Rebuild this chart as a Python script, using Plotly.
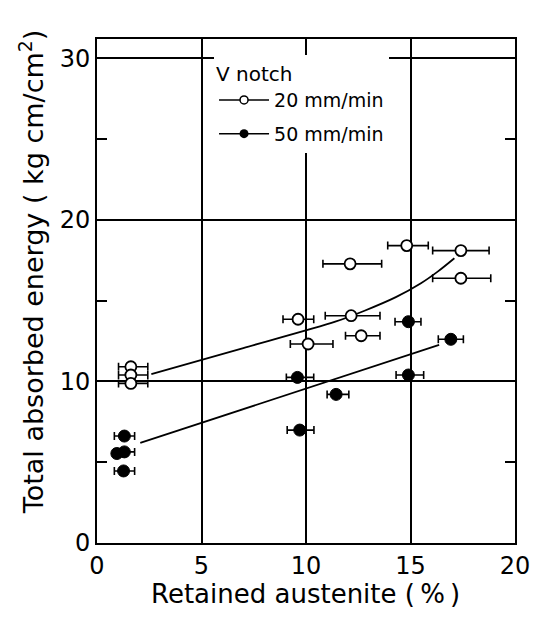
import plotly.graph_objects as go

# ---- data ----
# 20 mm/min (open circles)
open_x = [14.82, 17.41, 12.11, 17.41, 12.16, 9.62, 12.64, 10.10, 1.62, 1.62, 1.62]
open_y = [18.41, 18.10, 17.28, 16.39, 14.07, 13.85, 12.83, 12.32, 10.91, 10.40, 9.88]
open_err_plus = [1.03, 1.35, 1.51, 1.43, 1.38, 0.75, 0.90, 1.19, 0.81, 0.81, 0.81]
open_err_minus = [0.91, 1.35, 1.30, 1.35, 1.24, 0.72, 0.75, 0.85, 0.59, 0.59, 0.59]

# 50 mm/min (filled circles)
fill_x = [14.90, 16.93, 9.59, 14.90, 11.44, 9.70, 1.31, 1.31, 0.95, 1.27]
fill_y = [13.70, 12.61, 10.25, 10.40, 9.20, 6.99, 6.62, 5.64, 5.54, 4.46]
fill_err_plus = [0.60, 0.60, 0.78, 0.73, 0.61, 0.68, 0.49, 0.49, 0.0, 0.53]
fill_err_minus = [0.64, 0.60, 0.53, 0.59, 0.43, 0.60, 0.48, 0.48, 0.0, 0.44]

# hand-drawn trend curves
open_fit_x = [2.6, 7.0, 11.4, 12.8, 14.3, 15.5, 16.3, 17.1]
open_fit_y = [10.46, 12.07, 13.70, 14.38, 15.22, 16.08, 16.80, 17.63]
fill_fit_x = [2.07, 16.37]
fill_fit_y = [6.20, 12.26]

labels = ["20 mm/min", "50 mm/min"]
legend_title = "V notch"
x_title = "Retained austenite (\u2009%\u2009)"
y_title = "Total absorbed energy ( kg cm/cm<sup>2</sup>)"

FONT = "DejaVu Sans"
BLACK = "black"

fig = go.Figure()

fig.add_trace(go.Scatter(x=open_fit_x, y=open_fit_y, mode="lines",
                         line=dict(color=BLACK, width=1.8, shape="spline", smoothing=0.8),
                         showlegend=False, hoverinfo="skip"))
fig.add_trace(go.Scatter(x=fill_fit_x, y=fill_fit_y, mode="lines",
                         line=dict(color=BLACK, width=1.8),
                         showlegend=False, hoverinfo="skip"))

fig.add_trace(go.Scatter(
    x=open_x, y=open_y, mode="markers", showlegend=False,
    marker=dict(symbol="circle", size=11, color="white", line=dict(color=BLACK, width=1.8)),
    error_x=dict(type="data", symmetric=False, array=open_err_plus, arrayminus=open_err_minus,
                 color=BLACK, thickness=1.6, width=4)))
fig.add_trace(go.Scatter(
    x=fill_x, y=fill_y, mode="markers", showlegend=False,
    marker=dict(symbol="circle", size=12, color=BLACK, line=dict(color=BLACK, width=1)),
    error_x=dict(type="data", symmetric=False, array=fill_err_plus, arrayminus=fill_err_minus,
                 color=BLACK, thickness=1.6, width=4)))

# legend keys
fig.add_trace(go.Scatter(x=[None], y=[None], mode="lines+markers", name=labels[0],
                         legendgroup="a",
                         line=dict(color=BLACK, width=1.6),
                         marker=dict(symbol="circle", size=8, color="white",
                                     line=dict(color=BLACK, width=1.5))))
fig.add_trace(go.Scatter(x=[None], y=[None], mode="lines+markers", name=labels[1],
                         legendgroup="b",
                         line=dict(color=BLACK, width=1.6),
                         marker=dict(symbol="circle", size=9, color=BLACK)))

axis_common = dict(showline=True, linecolor=BLACK, linewidth=2, mirror="ticks",
                   showgrid=True, gridcolor=BLACK, gridwidth=1.5, zeroline=False,
                   tickfont=dict(family=FONT, size=24, color=BLACK))

fig.update_xaxes(range=[0, 20], dtick=5, tick0=0, ticks="", **axis_common)
fig.update_yaxes(range=[0, 31.2], dtick=10, tick0=0, ticks="inside", ticklen=10,
                 tickwidth=1.5, tickcolor=BLACK,
                 minor=dict(dtick=5, ticks="inside", ticklen=10, tickwidth=1.5,
                            tickcolor=BLACK, showgrid=False),
                 **axis_common)

fig.add_annotation(text=x_title, xref="paper", yref="paper", x=0.499, y=-0.101,
                   showarrow=False, font=dict(family=FONT, size=26, color=BLACK),
                   xanchor="center", yanchor="middle")
fig.add_annotation(text=y_title, xref="paper", yref="paper", x=-0.157, y=0.538,
                   showarrow=False, textangle=-90,
                   font=dict(family=FONT, size=27, color=BLACK),
                   xanchor="center", yanchor="middle")

fig.update_layout(
    width=542, height=619,
    margin=dict(l=97, r=24, t=39, b=76),
    paper_bgcolor="white", plot_bgcolor="white",
    font=dict(family=FONT, color=BLACK),
    legend=dict(x=0.28, y=0.968, xanchor="left", yanchor="top",
                bgcolor="white", borderwidth=0,
                title=dict(text=legend_title, font=dict(family=FONT, size=20, color=BLACK)),
                font=dict(family=FONT, size=19, color=BLACK),
                tracegroupgap=6, itemwidth=50),
)

fig.write_html("out.html", config={"displayModeBar": False},
               post_script="document.body.style.margin='0px';document.body.style.padding='0px';")
